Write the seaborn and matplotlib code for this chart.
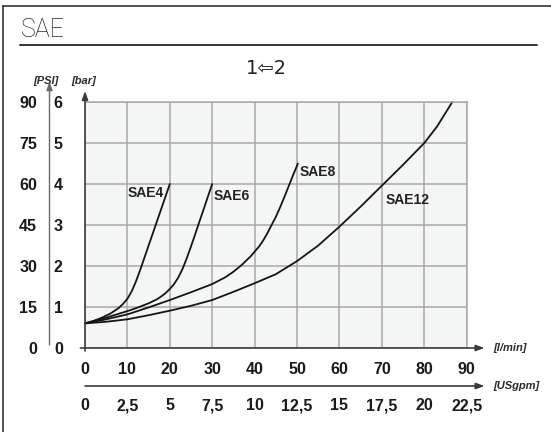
import matplotlib
matplotlib.use("Agg")
import matplotlib.pyplot as plt
from matplotlib.lines import Line2D
import pandas as pd
import seaborn as sns

# Pressure drop (bar) versus flow (l/min) for each SAE port size
sae4_flow = [0, 2, 4, 6, 8, 9, 10, 11, 12, 13, 14, 15, 16, 17, 18, 19, 20]
sae4_bar = [0.6, 0.66, 0.74, 0.84, 0.98, 1.08, 1.2, 1.38, 1.62, 1.9, 2.2, 2.5, 2.8,
            3.1, 3.4, 3.7, 4.0]

sae6_flow = [0, 5, 10, 12, 15, 17, 18, 19, 20, 21, 22, 23, 24, 25, 26, 27, 28, 29, 30]
sae6_bar = [0.6, 0.74, 0.9, 0.97, 1.09, 1.19, 1.26, 1.34, 1.44, 1.56, 1.72, 1.93, 2.19,
            2.48, 2.78, 3.09, 3.39, 3.7, 4.0]

sae8_flow = [0, 5, 10, 15, 20, 25, 30, 33, 35, 37, 39, 41, 42, 43, 44, 45, 46, 47, 48,
             49, 50, 50.2]
sae8_bar = [0.6, 0.7, 0.82, 0.99, 1.17, 1.36, 1.56, 1.72, 1.86, 2.03, 2.23, 2.47, 2.62,
            2.8, 3.0, 3.2, 3.43, 3.68, 3.94, 4.2, 4.45, 4.5]

sae12_flow = [0, 5, 10, 15, 20, 25, 30, 35, 40, 45, 50, 55, 60, 65, 70, 75, 80, 83, 86.6]
sae12_bar = [0.6, 0.64, 0.7, 0.8, 0.91, 1.03, 1.17, 1.37, 1.58, 1.8, 2.12, 2.5, 2.96,
             3.45, 3.96, 4.47, 5.0, 5.4, 6.0]

ports = ["SAE4", "SAE6", "SAE8", "SAE12"]
label_x = [14.2, 34.5, 54.9, 76.1]
label_y = [3.78, 3.7, 4.3, 3.6]

flow_ticks = [0, 10, 20, 30, 40, 50, 60, 70, 80, 90]
bar_ticks = [0, 1, 2, 3, 4, 5, 6]
psi_ticks = [0, 15, 30, 45, 60, 75, 90]
gpm_ticks = [0, 2.5, 5, 7.5, 10, 12.5, 15, 17.5, 20, 22.5]
gpm_labels = ["0", "2,5", "5", "7,5", "10", "12,5", "15", "17,5", "20", "22,5"]

frames = []
for name, q, p in [("SAE4", sae4_flow, sae4_bar), ("SAE6", sae6_flow, sae6_bar),
                   ("SAE8", sae8_flow, sae8_bar), ("SAE12", sae12_flow, sae12_bar)]:
    frames.append(pd.DataFrame({"flow": q, "bar": p, "port": name}))
df = pd.concat(frames, ignore_index=True)

sns.set_style("white")
plt.rcParams["font.family"] = ["Liberation Sans", "DejaVu Sans"]

W, H = 551, 432
fig = plt.figure(figsize=(W / 100, H / 100), dpi=100)

# plot box in pixel terms
x0, x1 = 85, 466.7
y0, y1 = 348, 102
ax = fig.add_axes([x0 / W, 1 - y0 / H, (x1 - x0) / W, (y0 - y1) / H])
ax.set_facecolor("#f4f6f6")

sns.lineplot(data=df, x="flow", y="bar", hue="port", palette=["#151515"] * 4,
             legend=False, sort=False, estimator=None, linewidth=1.3, ax=ax,
             clip_on=False)
for ln in ax.get_lines():
    ln.set_solid_joinstyle("round")

ax.set_xlim(0, 90)
ax.set_ylim(0, 6)
ax.set_xlabel("")
ax.set_ylabel("")

tick_size = 11.5
grid_c = "#a9a9a9"
ax.set_xticks(flow_ticks)
ax.set_yticks(bar_ticks)
ax.set_xticklabels([str(v) for v in flow_ticks])
ax.set_yticklabels([str(v) for v in bar_ticks])
ax.grid(True, color=grid_c, linewidth=1.1)
ax.set_axisbelow(True)
ax.tick_params(axis="y", length=4, width=1.1, color=grid_c, pad=12,
               labelsize=tick_size, labelcolor="#1a1a1a")
ax.tick_params(axis="x", length=4, width=1.1, color=grid_c, pad=6,
               labelsize=tick_size, labelcolor="#1a1a1a")
for lab in ax.get_xticklabels() + ax.get_yticklabels():
    lab.set_fontweight("bold")

for s in ["top", "right"]:
    ax.spines[s].set_color(grid_c)
    ax.spines[s].set_linewidth(1.1)
ax.spines["left"].set_visible(False)
ax.spines["bottom"].set_visible(False)

axis_c = "#3c3c3c"
arrow = dict(arrowstyle="-|>,head_length=0.5,head_width=0.18", color=axis_c,
             lw=1.2, shrinkA=0, shrinkB=0, mutation_scale=10)

# bar axis and flow axis with arrow heads
ax.annotate("", xy=(0, 1.045), xytext=(0, -0.012), xycoords="axes fraction",
            arrowprops=arrow, annotation_clip=False)
ax.annotate("", xy=(1.047, 0), xytext=(-0.012, 0), xycoords="axes fraction",
            arrowprops=arrow, annotation_clip=False)

# PSI scale on the far left
psi_pos = (49.5 - x0) / (x1 - x0)
sec_y = ax.secondary_yaxis(psi_pos, functions=(lambda b: b * 15, lambda p: p / 15))
sec_y.set_yticks(psi_ticks)
sec_y.set_yticklabels([str(v) for v in psi_ticks])
sec_y.tick_params(length=0, pad=9, labelsize=tick_size, labelcolor="#1a1a1a")
for lab in sec_y.get_yticklabels():
    lab.set_fontweight("bold")
sec_y.spines["left"].set_visible(False)
ax.annotate("", xy=(psi_pos, 1.083), xytext=(psi_pos, 0.012), xycoords="axes fraction",
            arrowprops=dict(arrow, color="#6a6a6a", lw=1.0), annotation_clip=False)

# US gallons per minute scale below
gpm_pos = (y0 - 386) / (y0 - y1)
sec_x = ax.secondary_xaxis(gpm_pos, functions=(lambda q: q / 4, lambda g: g * 4))
sec_x.set_xticks(gpm_ticks)
sec_x.set_xticklabels(gpm_labels)
sec_x.tick_params(length=0, pad=9, labelsize=tick_size, labelcolor="#1a1a1a")
for lab in sec_x.get_xticklabels():
    lab.set_fontweight("bold")
sec_x.spines["bottom"].set_visible(False)
ax.annotate("", xy=(1.047, gpm_pos), xytext=(0, gpm_pos), xycoords="axes fraction",
            arrowprops=arrow, annotation_clip=False)

# unit captions
unit_kw = dict(fontsize=8, fontweight="bold", style="italic", color="#2a2a2a")
fig.text(46 / W, 1 - 81 / H, "[PSI]", ha="center", va="center", **unit_kw)
fig.text(84 / W, 1 - 81 / H, "[bar]", ha="center", va="center", **unit_kw)
fig.text(493 / W, 1 - 348 / H, "[l/min]", ha="left", va="center", **unit_kw)
fig.text(493 / W, 1 - 386 / H, "[USgpm]", ha="left", va="center", **unit_kw)

# curve names
for name, lx, ly in zip(ports, label_x, label_y):
    ax.text(lx, ly, name, ha="center", va="center", fontsize=10,
            fontweight="bold", color="#222222")

# header
fig.text(21 / W, 1 - 30 / H, "SAE", ha="left", va="center", fontsize=18,
         color="#2a2a2a", fontweight="light", family=["Roboto", "DejaVu Sans"])
fig.add_artist(Line2D([20 / W, 537 / W], [1 - 45 / H, 1 - 45 / H],
                      color="#333333", lw=1.4))
fig.text(266 / W, 1 - 69 / H, "1\u21e62", ha="center", va="center", fontsize=14,
         color="#222222", family=["DejaVu Sans"])

# outer frame (left and top edges)
fig.add_artist(Line2D([3 / W, 3 / W], [0, 1 - 5.5 / H], color="#333333", lw=1.2))
fig.add_artist(Line2D([3 / W, 1], [1 - 5.5 / H, 1 - 5.5 / H], color="#333333", lw=1.2))

fig.savefig("out.png", dpi=100, facecolor="white")
